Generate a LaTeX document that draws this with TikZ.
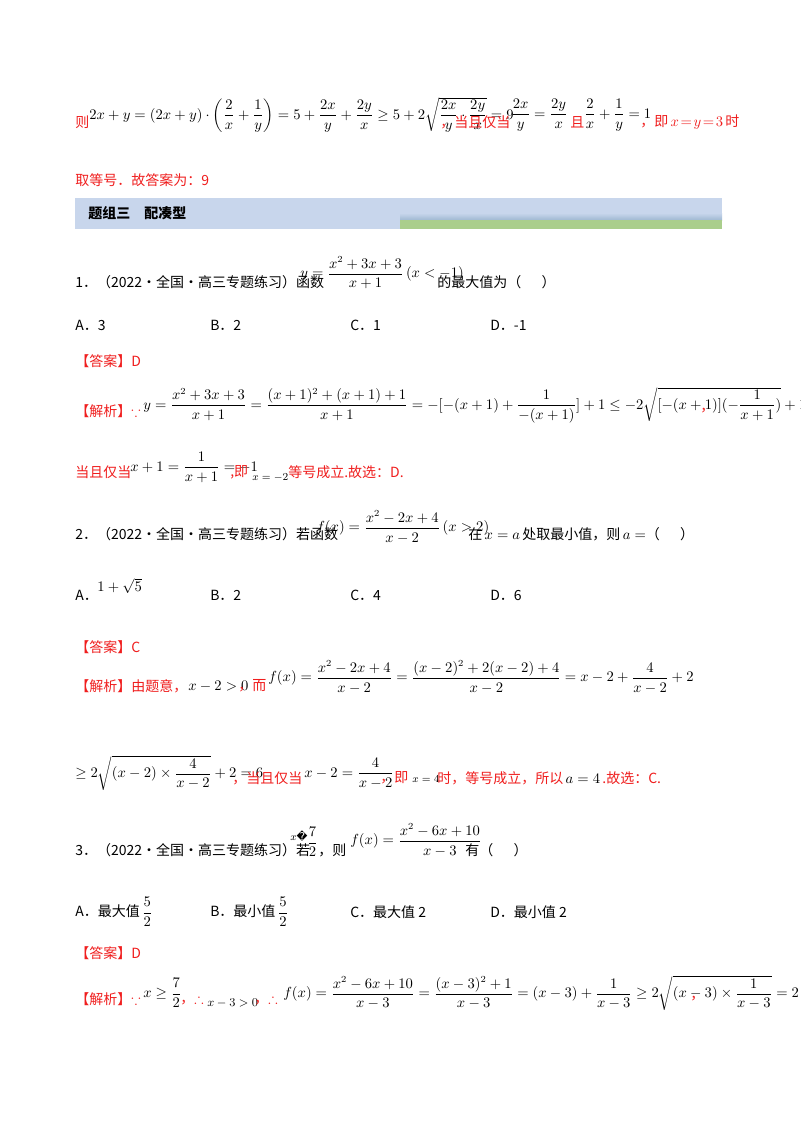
\documentclass[tikz,border=0pt]{standalone}
\usepackage{amsmath,amssymb}
\usepackage[no-math]{fontspec}
\setmainfont{Noto Sans CJK SC}
\newfontfamily\djv{DejaVu Sans}
\definecolor{ansred}{RGB}{240,30,30}
\definecolor{bandblue}{RGB}{200,214,236}
\definecolor{banddark}{RGB}{160,185,210}
\definecolor{bandgreen}{RGB}{170,206,140}
\begin{document}
\begin{tikzpicture}[x=0.75pt,y=-0.75pt,
  every node/.style={inner sep=0pt,font=\fontsize{10.5}{12}\selectfont},
  txt/.style={anchor=west},
  rtxt/.style={anchor=west,text=ansred}]
\useasboundingbox (0,0) rectangle (800,1132);
\fill[white] (0,0) rectangle (800,1132);
% line 1
\node[rtxt] (a1) at (75,122) {则};
\node[txt] (a2) at (89,115) {$2x+y=(2x+y)\cdot\left(\dfrac{2}{x}+\dfrac{1}{y}\right)=5+\dfrac{2x}{y}+\dfrac{2y}{x}\ge5+2\sqrt{\dfrac{2x}{y}\cdot\dfrac{2y}{x}}=9$};
\node[rtxt] (a3) at (440,122) {，当且仅当};
\node[txt] (a4) at (511,115) {$\dfrac{2x}{y}=\dfrac{2y}{x}$};
\node[rtxt] (a5) at (570,122) {且};
\node[txt] (a6) at (584,115) {$\dfrac{2}{x}+\dfrac{1}{y}=1$};
\node[rtxt] (a7) at (640,122) {，即\,$x\!=\!y\!=\!3$\,时};
\node[rtxt] (b1) at (75,180) {取等号．故答案为：9};
% band
\fill[bandblue] (75,198) rectangle (722,229);
\shade[top color=bandblue,bottom color=banddark] (400,213) rectangle (722,220);
\fill[bandgreen] (400,220) rectangle (722,229);
\node[txt] (band) at (88,213) {\bfseries 题组三\quad 配凑型};
% Q1
\node[txt] (q1) at (75,282) {1．（2022·全国·高三专题练习）函数};
\node[txt] (q1m) at (300,273) {$y=\dfrac{x^2+3x+3}{x+1}\,(x<-1)$};
\node[txt] (q1e) at (437,282) {的最大值为（\quad\ \ ）};
\node[txt] (o1a) at (75,325) {A．3};
\node[txt] (o1b) at (210,325) {B．2};
\node[txt] (o1c) at (350,325) {C．1};
\node[txt] (o1d) at (490,325) {D．-1};
\node[rtxt] (ans1) at (75,361) {【答案】D};
\node[rtxt] (j1) at (75,411) {【解析】$\because$};
\node[txt] (j1m) at (143,405) {$y=\dfrac{x^2+3x+3}{x+1}=\dfrac{(x+1)^2+(x+1)+1}{x+1}=-[-(x+1)+\dfrac{1}{-(x+1)}]+1\le-2\sqrt{[-(x+1)](-\dfrac{1}{x+1})}+1=-1$};
\node[rtxt] (j1e) at (700,411) {，};
\node[rtxt] (k1) at (75,472) {当且仅当};
\node[txt] (k1m) at (130,467) {$x+1=\dfrac{1}{x+1}=-1$};
\node[rtxt] (k2) at (230,472) {,即};
\node[txt] (k3) at (252,478) {\footnotesize$x=-2$};
\node[rtxt] (k4) at (288,472) {等号成立.故选：D.};
% Q2
\node[txt] (q2) at (75,534) {2．（2022·全国·高三专题练习）若函数};
\node[txt] (q2m) at (316,527) {$f(x)=\dfrac{x^2-2x+4}{x-2}\,(x>2)$};
\node[txt] (q2e) at (468,534) {在\,$x=a$\,处取最小值，则\,$a=$（\quad\ \ ）};
\node[txt] (o2a) at (75,595) {A．};
\node[txt] (o2a2) at (97,586) {$1+\sqrt5$};
\node[txt] (o2b) at (210,595) {B．2};
\node[txt] (o2c) at (350,595) {C．4};
\node[txt] (o2d) at (490,595) {D．6};
\node[rtxt] (ans2) at (75,647) {【答案】C};
\node[rtxt] (j2) at (75,686) {【解析】由题意，};
\node[txt] (j2a) at (188,686) {$x-2>0$};
\node[rtxt] (j2b) at (238,686) {，而};
\node[txt] (j2m) at (268,677) {$f(x)=\dfrac{x^2-2x+4}{x-2}=\dfrac{(x-2)^2+2(x-2)+4}{x-2}=x-2+\dfrac{4}{x-2}+2$};
\node[txt] (l2) at (75,773) {$\ge2\sqrt{(x-2)\times\dfrac{4}{x-2}}+2=6$};
\node[rtxt] (l2b) at (232,778) {，当且仅当};
\node[txt] (l2c) at (304,773) {$x-2=\dfrac{4}{x-2}$};
\node[rtxt] (l2d) at (380,778) {，即};
\node[txt] (l2e) at (412,779) {\footnotesize$x=4$};
\node[rtxt] (l2f) at (437,778) {时，等号成立，所以\,\textcolor{black}{$a=4$}\,.故选：C.};
% Q3
\node[txt] (q3) at (75,850) {3．（2022·全国·高三专题练习）若};
\node[txt] (q3x) at (290,836) {\footnotesize$x${\djv\char"FFFD}};
\node[txt] (q3f) at (307,842) {$\dfrac72$};
\node[txt] (q3z) at (318,850) {，则};
\node[txt] (q3m) at (350,840) {$f(x)=\dfrac{x^2-6x+10}{x-3}$};
\node[txt] (q3e) at (465,850) {有（\quad\ \ ）};
\node[txt] (o3a) at (75,912) {A．最大值\,$\dfrac52$};
\node[txt] (o3b) at (210,912) {B．最小值\,$\dfrac52$};
\node[txt] (o3c) at (350,912) {C．最大值 2};
\node[txt] (o3d) at (490,912) {D．最小值 2};
\node[rtxt] (ans3) at (75,953) {【答案】D};
\node[rtxt] (j3) at (75,999) {【解析】$\because$};
\node[txt] (j3a) at (143,993) {$x\ge\dfrac72$};
\node[rtxt] (j3b) at (180,999) {，$\therefore$};
\node[txt] (j3c) at (207,1003) {\small$x-3>0$};
\node[rtxt] (j3d) at (254,999) {，$\therefore$};
\node[txt] (j3m) at (283,993) {$f(x)=\dfrac{x^2-6x+10}{x-3}=\dfrac{(x-3)^2+1}{x-3}=(x-3)+\dfrac{1}{x-3}\ge2\sqrt{(x-3)\times\dfrac{1}{x-3}}=2$};
\node[rtxt] (j3e) at (690,999) {，};
\end{tikzpicture}
\end{document}
